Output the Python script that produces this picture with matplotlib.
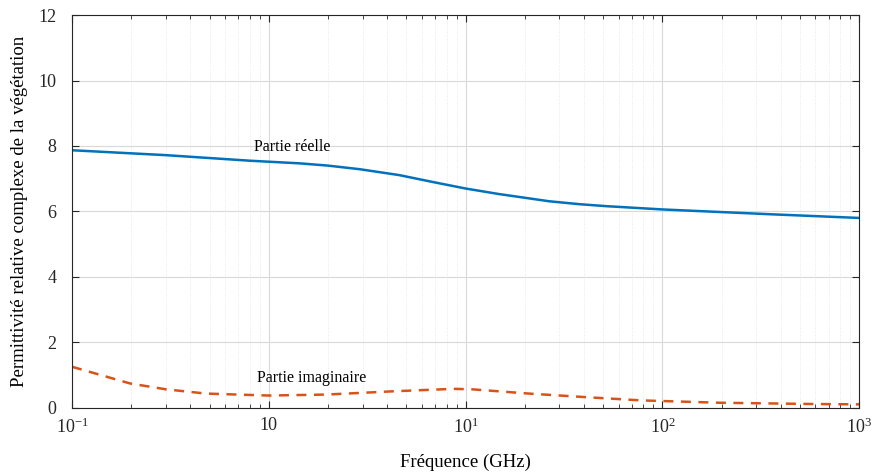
import numpy as np
import matplotlib.pyplot as plt
from matplotlib.ticker import LogLocator, NullFormatter, FixedFormatter, FixedLocator

plt.rcParams['font.family'] = ['Liberation Serif', 'DejaVu Serif']
plt.rcParams['mathtext.fontset'] = 'custom'
plt.rcParams['mathtext.rm'] = 'Liberation Serif'

# Partie réelle
freq_re = [0.1, 0.3, 0.8, 1.43, 2.0, 2.9, 3.65, 4.6, 6.8, 10, 14.8, 26.6, 38, 52, 100, 363, 1000]
eps_re = [7.87, 7.72, 7.55, 7.47, 7.40, 7.29, 7.20, 7.11, 6.90, 6.70, 6.53, 6.31, 6.22, 6.16, 6.06, 5.91, 5.80]

# Partie imaginaire
freq_im = [0.1, 0.197, 0.3, 0.48, 1.0, 1.96, 4.3, 8.7, 10.8, 21, 41, 79, 195, 600, 1000]
eps_im = [1.25, 0.74, 0.56, 0.43, 0.37, 0.40, 0.50, 0.575, 0.56, 0.43, 0.32, 0.22, 0.15, 0.11, 0.10]

xticks = [0.1, 1, 10, 100, 1000]
xticklabels = [r'$\mathregular{10^{-1}}$', '10', r'$\mathregular{10^{1}}$',
               r'$\mathregular{10^{2}}$', r'$\mathregular{10^{3}}$']
yticks = [0, 2, 4, 6, 8, 10, 12]

fig = plt.figure(figsize=(8.74, 4.74), dpi=100)
ax = fig.add_axes([0.0824, 0.140, 0.9006, 0.828])

ax.semilogx(freq_re, eps_re, color='#0072BD', lw=1.8)
ax.semilogx(freq_im, eps_im, color='#D95319', lw=1.8, ls=(0, (4, 3)))

ax.text(1.31, 7.97, 'Partie réelle', ha='center', va='center', fontsize=11.5)
ax.text(1.65, 0.9, 'Partie imaginaire', ha='center', va='center', fontsize=11.5)

ax.set_xlim(0.1, 1000)
ax.set_ylim(0, 12)
ax.xaxis.set_major_locator(FixedLocator(xticks))
ax.xaxis.set_major_formatter(FixedFormatter(xticklabels))
ax.xaxis.set_minor_locator(LogLocator(base=10, subs=np.arange(2, 10)))
ax.xaxis.set_minor_formatter(NullFormatter())
ax.set_yticks(yticks)

ax.grid(True, which='major', color='#d9d9d9', lw=0.8)
ax.grid(True, which='minor', axis='x', color='#e3e3e3', lw=0.6, ls=':')
ax.tick_params(which='both', direction='in', top=True, right=True, labelsize=13, colors='#262626')
ax.tick_params(which='major', length=5)
ax.tick_params(which='minor', length=3)
ax.tick_params(axis='x', pad=7)
ax.tick_params(axis='y', pad=11)
for s in ax.spines.values():
    s.set_color('#262626')
    s.set_linewidth(0.8)

ax.set_xlabel('Fréquence (GHz)', fontsize=13.5, labelpad=12)
ax.set_ylabel('Permittivité relative complexe de la végétation', fontsize=13.5, labelpad=8)

plt.savefig('out.png', dpi=100)
